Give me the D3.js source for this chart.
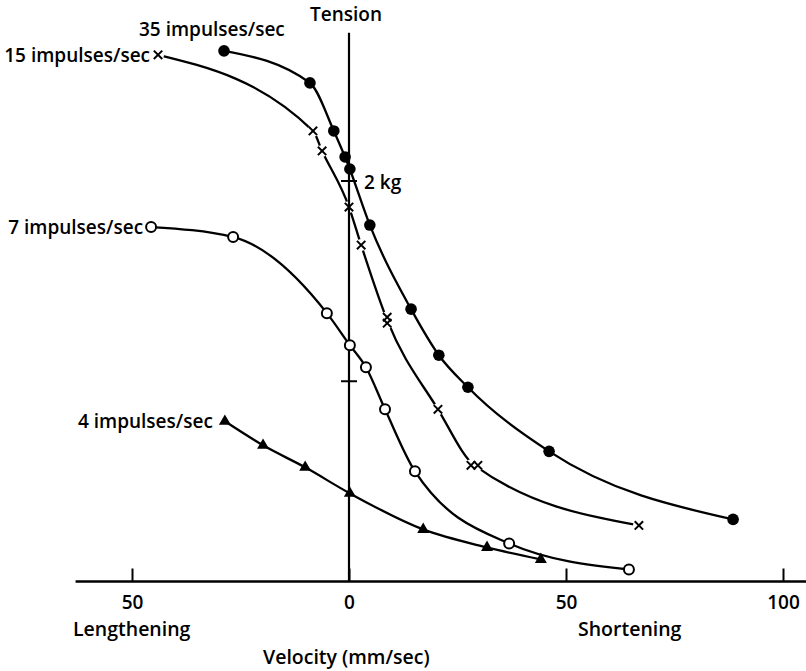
<!DOCTYPE html>
<html>
<head>
<meta charset="utf-8">
<script src="https://cdn.jsdelivr.net/npm/d3@7"></script>
<style>
  html, body { margin: 0; padding: 0; background: #fff; }
  svg { display: block; }
  text { font-family: "Open Sans", "DejaVu Sans", sans-serif; font-weight: 600; fill: #000; }
</style>
</head>
<body>
<svg id="chart" width="806" height="671"></svg>
<script>
// Force–velocity curves at four stimulation rates.
// Velocity in mm/sec (lengthening negative, shortening positive), tension in kg.

const rate35Velocity = [-28.8, -9.0, -3.5, -0.9, 0.2, 4.8, 14.3, 20.7, 27.4, 46.1, 88.5];
const rate35Tension  = [2.65, 2.49, 2.25, 2.12, 2.06, 1.78, 1.36, 1.13, 0.97, 0.65, 0.31];

const rate15Velocity = [-44.0, -8.3, -6.2, 0.0, 2.8, 8.8, 8.8, 20.5, 28.1, 29.7, 66.8];
const rate15Tension  = [2.63, 2.25, 2.15, 1.87, 1.68, 1.32, 1.29, 0.86, 0.58, 0.58, 0.28];

const rate7Velocity = [-45.6, -26.7, -5.1, 0.2, 3.9, 8.3, 15.2, 36.9, 64.5];
const rate7Tension  = [1.77, 1.72, 1.34, 1.18, 1.07, 0.86, 0.55, 0.19, 0.06];

const rate4Velocity = [-28.6, -19.8, -10.1, 0.2, 17.1, 31.8, 44.2];
const rate4Tension  = [0.80, 0.68, 0.57, 0.44, 0.26, 0.17, 0.11];

const seriesLabels = ["35 impulses/sec", "15 impulses/sec", "7 impulses/sec", "4 impulses/sec"];
const markerKinds  = ["dot", "cross", "ring", "triangle"];

const velocityTicks = [-50, 0, 50, 100];
const tensionTicks  = [1, 2];
const tensionTickLabel = "2 kg";

const series = [
  { label: seriesLabels[0], marker: markerKinds[0], v: rate35Velocity, t: rate35Tension },
  { label: seriesLabels[1], marker: markerKinds[1], v: rate15Velocity, t: rate15Tension },
  { label: seriesLabels[2], marker: markerKinds[2], v: rate7Velocity,  t: rate7Tension },
  { label: seriesLabels[3], marker: markerKinds[3], v: rate4Velocity,  t: rate4Tension }
].map(s => ({ ...s, pts: s.v.map((v, i) => ({ v, t: s.t[i] })) }));

// Repeated readings taken at (nearly) the same velocity are averaged
// so the fitted curve passes between them.
function mergeRepeats(pts, tol) {
  const out = [];
  pts.forEach(p => {
    const last = out[out.length - 1];
    if (last && Math.abs(p.v - last.v) <= tol) {
      last.n += 1;
      last.v += (p.v - last.v) / last.n;
      last.t += (p.t - last.t) / last.n;
    } else {
      out.push({ v: p.v, t: p.t, n: 1 });
    }
  });
  return out;
}

const svg = d3.select("#chart");

const x = d3.scaleLinear().domain([-50, 100]).range([132, 783]);
const y = d3.scaleLinear().domain([0, 2]).range([581.5, 181]);

// Curves
const line = d3.line()
  .x(d => x(d.v))
  .y(d => y(d.t))
  .curve(d3.curveMonotoneX);

const curves = svg.append("g");
series.forEach(s => {
  curves.append("path")
    .attr("d", line(mergeRepeats(s.pts, 2)))
    .attr("fill", "none")
    .attr("stroke", "#000")
    .attr("stroke-width", 2.3);
});

// white halos that break the curve around the cross markers
const halos = svg.append("g");
series.filter(s => s.marker === "cross").forEach(s => {
  halos.selectAll(null).data(s.pts).join("circle")
    .attr("cx", d => x(d.v))
    .attr("cy", d => y(d.t))
    .attr("r", 6)
    .attr("fill", "#fff");
});

// Velocity axis
svg.append("line")
  .attr("x1", x(-63)).attr("x2", x(106))
  .attr("y1", y(0)).attr("y2", y(0))
  .attr("stroke", "#000").attr("stroke-width", 2.6);

const xAxis = d3.axisBottom(x)
  .tickValues(velocityTicks)
  .tickFormat(d => String(Math.abs(d)))
  .tickSizeInner(-13)
  .tickSizeOuter(0)
  .tickPadding(14);

const gx = svg.append("g")
  .attr("transform", `translate(0,${y(0)})`)
  .call(xAxis);
gx.select(".domain").remove();
gx.selectAll(".tick line").attr("stroke", "#000").attr("stroke-width", 2);
gx.selectAll(".tick text")
  .attr("font-size", 19)
  .attr("font-family", null);

// Tension axis (vertical line at zero velocity)
svg.append("line")
  .attr("x1", x(0)).attr("x2", x(0))
  .attr("y1", y(2.74)).attr("y2", y(0))
  .attr("stroke", "#000").attr("stroke-width", 2.2);

svg.append("g").selectAll("line").data(tensionTicks).join("line")
  .attr("x1", x(0) - 8).attr("x2", x(0) + 8)
  .attr("y1", d => y(d)).attr("y2", d => y(d))
  .attr("stroke", "#000").attr("stroke-width", 2);

svg.append("text")
  .attr("x", x(0) + 15).attr("y", y(2) + 8)
  .attr("font-size", 19)
  .text(tensionTickLabel);

svg.append("text")
  .attr("x", x(0) - 3).attr("y", 21)
  .attr("text-anchor", "middle")
  .attr("font-size", 19)
  .text("Tension");

// Axis captions
svg.append("text").attr("x", 73).attr("y", 636).attr("font-size", 19.5).text("Lengthening");
svg.append("text").attr("x", 578).attr("y", 636).attr("font-size", 19.5).text("Shortening");
svg.append("text").attr("x", 263).attr("y", 664).attr("font-size", 19.5).text("Velocity (mm/sec)");

// Markers
const markers = svg.append("g");
series.forEach(s => {
  const g = markers.append("g");
  s.pts.forEach(d => {
    const cx = x(d.v), cy = y(d.t);
    if (s.marker === "dot") {
      g.append("circle").attr("cx", cx).attr("cy", cy).attr("r", 5.8).attr("fill", "#000");
    } else if (s.marker === "ring") {
      g.append("circle").attr("cx", cx).attr("cy", cy).attr("r", 5)
        .attr("fill", "#fff").attr("stroke", "#000").attr("stroke-width", 2);
    } else if (s.marker === "cross") {
      const r = 4.2;
      g.append("path")
        .attr("d", `M${cx - r},${cy - r}L${cx + r},${cy + r}M${cx - r},${cy + r}L${cx + r},${cy - r}`)
        .attr("stroke", "#000").attr("stroke-width", 2).attr("fill", "none");
    } else {
      const sym = d3.symbol().type(d3.symbolTriangle).size(62);
      g.append("path").attr("d", sym()).attr("transform", `translate(${cx},${cy})`).attr("fill", "#000");
    }
  });
});

// Series labels, placed against the first point of each curve
const labelGroup = svg.append("g");
// 35 impulses/sec sits above its first point
labelGroup.append("text")
  .attr("x", x(series[0].pts[0].v) - 85).attr("y", y(series[0].pts[0].t) - 15)
  .attr("font-size", 19)
  .text(series[0].label);
[1, 2, 3].forEach(i => {
  const p = series[i].pts[0];
  const gap = series[i].marker === "triangle" ? 12 : 8;
  labelGroup.append("text")
    .attr("x", x(p.v) - gap).attr("y", y(p.t) + 7)
    .attr("text-anchor", "end")
    .attr("font-size", 19)
    .text(series[i].label);
});
</script>
</body>
</html>
